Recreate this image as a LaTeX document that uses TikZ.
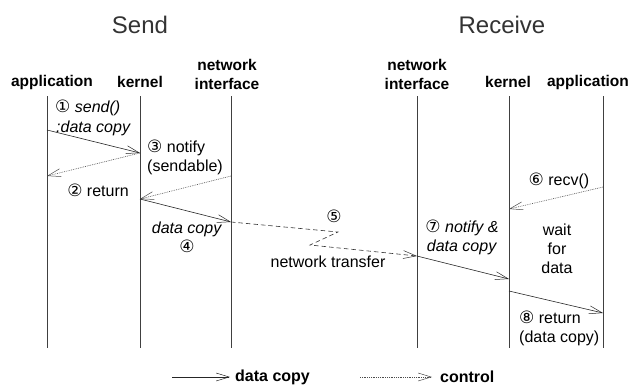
\documentclass[tikz,border=0pt]{standalone}
\usepackage{fontspec}
\setmainfont{Liberation Sans}
\newfontfamily\circfont{DejaVu Sans}
\usetikzlibrary{arrows.meta}
\newcommand\cnum[1]{{\circfont\fontsize{17}{19}\selectfont #1}}
\begin{document}
\begin{tikzpicture}[x=1pt,y=-1pt,
  lifeline/.style={draw=black!75,line width=0.6pt},
  tip/.style={-{Straight Barb[length=13pt,width=8pt,line width=0.5pt]}},
  copyarrow/.style={tip,draw=black!85,line width=0.6pt},
  ctrlarrow/.style={tip,draw=black!70,line width=0.6pt,dash pattern=on 0.8pt off 1pt},
  xferarrow/.style={tip,draw=black!80,line width=0.6pt,dash pattern=on 4.5pt off 3pt},
  title/.style={font=\fontsize{24}{28}\selectfont,text=black!80},
  head/.style={font=\bfseries\fontsize{15.5}{19}\selectfont,align=center,inner sep=0pt},
  lbl/.style={font=\fontsize{16}{19}\selectfont,inner sep=0pt},
  legendtxt/.style={font=\bfseries\fontsize{16}{19}\selectfont,inner sep=0pt,anchor=west}]
\useasboundingbox (0,0) rectangle (639,386);

% titles
\node[title] (tsend) at (140,25) {Send};
\node[title] (trecv) at (502,25) {Receive};

% column headers
\node[head] (hsa) at (52,82) {application};
\node[head] (hsk) at (140,82) {kernel};
\node[head] (hsn) at (227,74) {network\\interface};
\node[head] (hrn) at (417,74) {network\\interface};
\node[head] (hrk) at (508,82) {kernel};
\node[head] (hra) at (588,82) {application};

% lifelines
\coordinate (saT) at (47,96);  \coordinate (saB) at (47,348);
\coordinate (skT) at (140,96); \coordinate (skB) at (140,348);
\coordinate (snT) at (231,96); \coordinate (snB) at (231,348);
\coordinate (rnT) at (417,96); \coordinate (rnB) at (417,348);
\coordinate (rkT) at (509,96); \coordinate (rkB) at (509,348);
\coordinate (raT) at (603,96); \coordinate (raB) at (603,348);
\foreach \t/\b in {saT/saB,skT/skB,snT/snB,rnT/rnB,rkT/rkB,raT/raB}
  \draw[lifeline] (\t) -- (\b);

% event points on the lifelines
\coordinate (a1) at (47,130);
\coordinate (k1) at (140,153);
\coordinate (a2) at (47,176);
\coordinate (n1) at (231,176);
\coordinate (k2) at (140,199);
\coordinate (n2) at (231,222);
\coordinate (z1) at (338,232);
\coordinate (z2) at (310,245);
\coordinate (r1) at (417,256);
\coordinate (ra1) at (603,187);
\coordinate (rk1) at (509,209);
\coordinate (rk2) at (509,279);
\coordinate (rk3) at (509,291);
\coordinate (ra2) at (603,313);

% messages
\draw[copyarrow] (a1) -- (k1);
\draw[ctrlarrow] (k1) -- (a2);
\draw[ctrlarrow] (n1) -- (k2);
\draw[copyarrow] (k2) -- (n2);
\draw[xferarrow] (n2) -- (z1) -- (z2) -- (r1);
\draw[ctrlarrow] (ra1) -- (rk1);
\draw[copyarrow] (r1) -- (rk2);
\draw[copyarrow] (rk3) -- (ra2);

% message labels
\node[lbl,anchor=west] (l1a) at (55,108) {\cnum{①} \textit{send()}};
\node[lbl,anchor=west] (l1b) at (56,128) {\textit{:data copy}};
\node[lbl] (l2) at (98,190) {\cnum{②} return};
\node[lbl,anchor=west,align=left] (l3) at (147,157) {\cnum{③} notify\\(sendable)};
\node[lbl,align=center] (l4) at (187,237) {\textit{data copy}\\\cnum{④}};
\node[lbl] (l5) at (334,216) {\cnum{⑤}};
\node[lbl] (l5b) at (328,262) {network transfer};
\node[lbl] (l6) at (559,181) {\cnum{⑥} recv()};
\node[lbl,align=center] (l7) at (462,237) {\cnum{⑦} \textit{notify \&}\\\textit{data copy}};
\node[lbl,align=center] (lw) at (557,249) {wait\\for\\data};
\node[lbl,anchor=west,align=left] (l8) at (519,328) {\cnum{⑧} return\\(data copy)};

% legend
\coordinate (g1s) at (172,377); \coordinate (g1e) at (230,377);
\coordinate (g2s) at (360,377); \coordinate (g2e) at (432,377);
\draw[copyarrow] (g1s) -- (g1e);
\node[legendtxt] (g1t) at (235,377) {data copy};
\draw[ctrlarrow] (g2s) -- (g2e);
\node[legendtxt] (g2t) at (440,377) {control};
\end{tikzpicture}
\end{document}
